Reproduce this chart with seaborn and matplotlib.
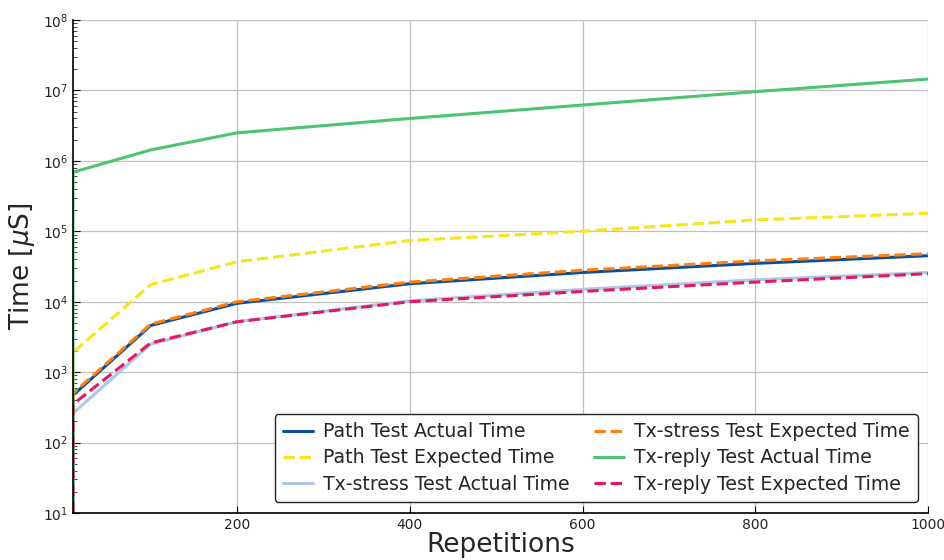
import numpy as np
import pandas as pd
import matplotlib
matplotlib.use("Agg")
import matplotlib.pyplot as plt
import seaborn as sns

# -----------------------------
# Data
# -----------------------------
reps = [0, 10, 100, 200, 400, 600, 800, 1000]

path_actual = [0, 470, 4600, 9500, 18000, 26000, 35000, 45000]
path_expected = [0, 1900, 17500, 37000, 74000, 100000, 145000, 180000]
txstress_actual = [0, 260, 2500, 5200, 10300, 15000, 20500, 26000]
txstress_expected = [0, 500, 4800, 10000, 19000, 28000, 38000, 48000]
txreply_actual = [0, 690000, 1430000, 2500000, 4000000, 6200000, 9600000, 14500000]
txreply_expected = [0, 350, 2600, 5200, 10000, 14000, 19000, 25000]

series = [
    ("Path Test Actual Time", path_actual, "#0b4f9c", "-"),
    ("Path Test Expected Time", path_expected, "#f7e51a", "--"),
    ("Tx-stress Test Actual Time", txstress_actual, "#aec7e8", "-"),
    ("Tx-stress Test Expected Time", txstress_expected, "#ff7f0e", "--"),
    ("Tx-reply Test Actual Time", txreply_actual, "#4cc471", "-"),
    ("Tx-reply Test Expected Time", txreply_expected, "#e6195f", "--"),
]

sns.set_style("white")
plt.rcParams["font.family"] = ["DejaVu Sans"]

fig = plt.figure(figsize=(9.44, 5.6), dpi=100)
ax = fig.add_axes([0.0773, 0.0839, 0.9057, 0.8804])

for name, vals, color, ls in series:
    df = pd.DataFrame({"Repetitions": reps, "Time": vals})
    sns.lineplot(data=df, x="Repetitions", y="Time", ax=ax, color=color,
                 linestyle=ls, linewidth=2.2, label=name, estimator=None,
                 sort=False)

ax.set_yscale("log")
ax.set_ylim(10, 1e8)
ax.set_xlim(10, 1000)
ax.set_xticks([200, 400, 600, 800, 1000])

ax.grid(True, which="major", color="#c0c0c0", linewidth=0.9)
ax.tick_params(axis="both", which="major", direction="in", length=5,
               labelsize=10, color="black", labelcolor="#222222")
ax.tick_params(axis="y", which="minor", direction="in", length=3, left=True)
ax.tick_params(axis="x", which="both", bottom=True, top=False)
ax.tick_params(axis="y", which="both", left=True, right=False)

for side in ["top", "right"]:
    ax.spines[side].set_visible(False)
for side in ["left", "bottom"]:
    ax.spines[side].set_color("black")
    ax.spines[side].set_linewidth(1.2)

ax.set_xlabel("Repetitions", fontsize=19, labelpad=0)
ax.set_ylabel(r"Time [$\mu$S]", fontsize=19)

leg = ax.legend(loc="lower right", ncol=2, fontsize=13.6, frameon=True,
                fancybox=True, edgecolor="#222222", framealpha=1.0,
                handlelength=1.6, handletextpad=0.5, columnspacing=1.3,
                borderpad=0.45, labelspacing=0.38, borderaxespad=0,
                bbox_to_anchor=(0.988, 0.022))
leg.get_frame().set_linewidth(1.0)

plt.savefig("out.png", dpi=100)
